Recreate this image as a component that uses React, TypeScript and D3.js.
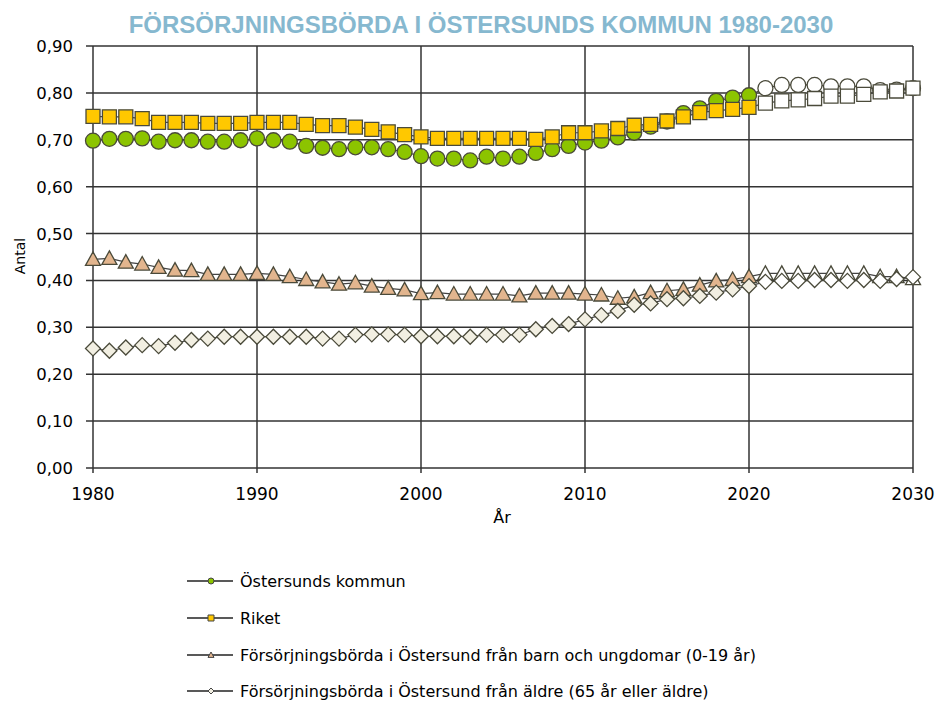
import React, { useEffect, useRef } from "react";
import * as d3 from "d3";

// years 1980-2020 (observed) and 2021-2030 (forecast)
const yearsObs = d3.range(1980, 2021);
const yearsProg = d3.range(2021, 2031);

const ostersund = [
  0.698, 0.702, 0.702, 0.703, 0.696, 0.699, 0.699, 0.696, 0.696, 0.699,
  0.703, 0.699, 0.696, 0.687, 0.683, 0.68, 0.684, 0.684, 0.68, 0.674,
  0.665, 0.66, 0.66, 0.656, 0.664, 0.66, 0.664, 0.672, 0.68, 0.687,
  0.694, 0.698, 0.705, 0.715, 0.728, 0.739, 0.757, 0.767, 0.783, 0.79, 0.795,
];
const ostersundProg = [0.81, 0.817, 0.817, 0.817, 0.814, 0.814, 0.814, 0.806, 0.807, 0.81];

const riket = [
  0.75, 0.749, 0.749, 0.745, 0.737, 0.737, 0.737, 0.735, 0.735, 0.735,
  0.737, 0.737, 0.737, 0.733, 0.73, 0.73, 0.727, 0.722, 0.717, 0.711,
  0.706, 0.703, 0.703, 0.703, 0.703, 0.703, 0.703, 0.701, 0.706, 0.715,
  0.715, 0.719, 0.724, 0.731, 0.733, 0.74, 0.749, 0.758, 0.762, 0.765, 0.769,
];
const riketProg = [0.778, 0.783, 0.785, 0.788, 0.793, 0.793, 0.797, 0.802, 0.804, 0.81];

const barn = [
  0.445, 0.447, 0.439, 0.435, 0.428, 0.422, 0.421, 0.413, 0.413, 0.413,
  0.415, 0.413, 0.408, 0.402, 0.397, 0.392, 0.395, 0.388, 0.383, 0.38,
  0.372, 0.374, 0.371, 0.371, 0.371, 0.371, 0.367, 0.373, 0.373, 0.373,
  0.371, 0.369, 0.362, 0.365, 0.374, 0.378, 0.381, 0.39, 0.399, 0.402, 0.408,
];
const barnProg = [0.415, 0.415, 0.415, 0.415, 0.415, 0.415, 0.415, 0.408, 0.408, 0.404];

const aldre = [
  0.255, 0.25, 0.257, 0.262, 0.26, 0.267, 0.273, 0.276, 0.28, 0.28,
  0.28, 0.28, 0.28, 0.28, 0.276, 0.276, 0.284, 0.285, 0.285, 0.284,
  0.281, 0.281, 0.281, 0.28, 0.284, 0.284, 0.284, 0.296, 0.303, 0.307,
  0.317, 0.326, 0.335, 0.348, 0.351, 0.36, 0.362, 0.367, 0.374, 0.381, 0.388,
];
const aldreProg = [0.397, 0.399, 0.399, 0.401, 0.401, 0.399, 0.401, 0.399, 0.403, 0.407];

const yTicks = d3.range(0, 0.91, 0.1);
const xTicks = [1980, 1990, 2000, 2010, 2020, 2030];

const seriesNames = [
  "Östersunds kommun",
  "Riket",
  "Försörjningsbörda i Östersund från barn och ungdomar (0-19 år)",
  "Försörjningsbörda i Östersund från äldre (65 år eller äldre)",
];

const FONT = "'DejaVu Sans', Verdana, sans-serif";

// marker shapes, r = half size in px
const markerPath = (shape: string, r: number) => {
  if (shape === "circle") return d3.symbol().type(d3.symbolCircle).size(Math.PI * r * r)();
  if (shape === "square") return `M${-r},${-r}H${r}V${r}H${-r}Z`;
  if (shape === "triangle") return `M0,${-r}L${r},${r * 0.8}L${-r},${r * 0.8}Z`;
  return `M0,${-r}L${r},0L0,${r}L${-r},0Z`; // diamond
};

const App = () => {
  const svgRef = useRef<SVGSVGElement>(null);

  useEffect(() => {
    const width = 941;
    const height = 702;
    const svg = d3.select(svgRef.current);
    svg.selectAll("*").remove();
    svg.attr("width", width).attr("height", height);

    const x = d3.scaleLinear().domain([1980, 2030]).range([93, 913]);
    const y = d3.scaleLinear().domain([0, 0.9]).range([468, 46]);

    // title
    svg
      .append("text")
      .attr("x", 481)
      .attr("y", 33)
      .attr("text-anchor", "middle")
      .attr("font-family", "'Liberation Sans Narrow', 'Liberation Sans', sans-serif")
      .attr("font-weight", "bold")
      .attr("font-size", 24)
      .attr("fill", "#86b8cf")
      .text("FÖRSÖRJNINGSBÖRDA I ÖSTERSUNDS KOMMUN 1980-2030");

    // grid
    const grid = svg.append("g").attr("stroke", "#333").attr("stroke-width", 1.5);
    grid
      .selectAll("line.h")
      .data(yTicks)
      .join("line")
      .attr("x1", x(1980) - 7)
      .attr("x2", x(2030))
      .attr("y1", (d) => y(d))
      .attr("y2", (d) => y(d));
    grid
      .selectAll("line.v")
      .data(xTicks)
      .join("line")
      .attr("class", "v")
      .attr("x1", (d) => x(d))
      .attr("x2", (d) => x(d))
      .attr("y1", y(0.9))
      .attr("y2", y(0) + 5);

    // tick labels
    svg
      .append("g")
      .selectAll("text")
      .data(yTicks)
      .join("text")
      .attr("x", x(1980) - 20)
      .attr("y", (d) => y(d) + 6)
      .attr("text-anchor", "end")
      .attr("font-family", FONT)
      .attr("font-size", 16.5)
      .text((d) => d3.format(".2f")(d).replace(".", ","));
    svg
      .append("g")
      .selectAll("text")
      .data(xTicks)
      .join("text")
      .attr("x", (d) => x(d))
      .attr("y", 500)
      .attr("text-anchor", "middle")
      .attr("font-family", FONT)
      .attr("font-size", 17)
      .text((d) => d);

    svg
      .append("text")
      .attr("x", 502)
      .attr("y", 523)
      .attr("text-anchor", "middle")
      .attr("font-family", FONT)
      .attr("font-size", 16)
      .text("År");
    svg
      .append("text")
      .attr("transform", "translate(25,256) rotate(-90)")
      .attr("text-anchor", "middle")
      .attr("font-family", FONT)
      .attr("font-size", 14)
      .text("Antal");

    const series = [
      { obs: ostersund, prog: ostersundProg, shape: "circle", fill: "#8cc400", r: 7.5 },
      { obs: riket, prog: riketProg, shape: "square", fill: "#ffc800", r: 7 },
      { obs: barn, prog: barnProg, shape: "triangle", fill: "#e2b58e", r: 7.5 },
      { obs: aldre, prog: aldreProg, shape: "diamond", fill: "#f2efe2", r: 7.5 },
    ];

    const line = d3
      .line<[number, number]>()
      .x((d) => x(d[0]))
      .y((d) => y(d[1]));

    series.forEach((s) => {
      const pts: [number, number][] = [
        ...yearsObs.map((yr, i) => [yr, s.obs[i]] as [number, number]),
        ...yearsProg.map((yr, i) => [yr, s.prog[i]] as [number, number]),
      ];
      const g = svg.append("g");
      g.append("path")
        .attr("d", line(pts))
        .attr("fill", "none")
        .attr("stroke", "#444")
        .attr("stroke-width", 1.2);
      g.selectAll("path.m")
        .data(pts)
        .join("path")
        .attr("class", "m")
        .attr("transform", (d) => `translate(${x(d[0])},${y(d[1])})`)
        .attr("d", markerPath(s.shape, s.r))
        .attr("fill", (d) => (d[0] > 2020 ? "#fff" : s.fill))
        .attr("stroke", "#4a4a3a")
        .attr("stroke-width", 1.3);
    });

    // legend
    const legend = svg.append("g");
    const rowY = [581, 618, 655, 691];
    seriesNames.forEach((name, i) => {
      const gy = rowY[i];
      legend
        .append("line")
        .attr("x1", 187)
        .attr("x2", 233)
        .attr("y1", gy)
        .attr("y2", gy)
        .attr("stroke", "#222")
        .attr("stroke-width", 1.3);
      legend
        .append("path")
        .attr("transform", `translate(211,${gy})`)
        .attr("d", markerPath(series[i].shape, 3))
        .attr("fill", series[i].fill)
        .attr("stroke", "#444")
        .attr("stroke-width", 1);
      legend
        .append("text")
        .attr("x", 240)
        .attr("y", gy + 6)
        .attr("font-family", FONT)
        .attr("font-size", 16)
        .text(name);
    });
  }, []);

  return <svg ref={svgRef} style={{ position: "absolute", left: 0, top: 0 }}></svg>;
};

export default App;
